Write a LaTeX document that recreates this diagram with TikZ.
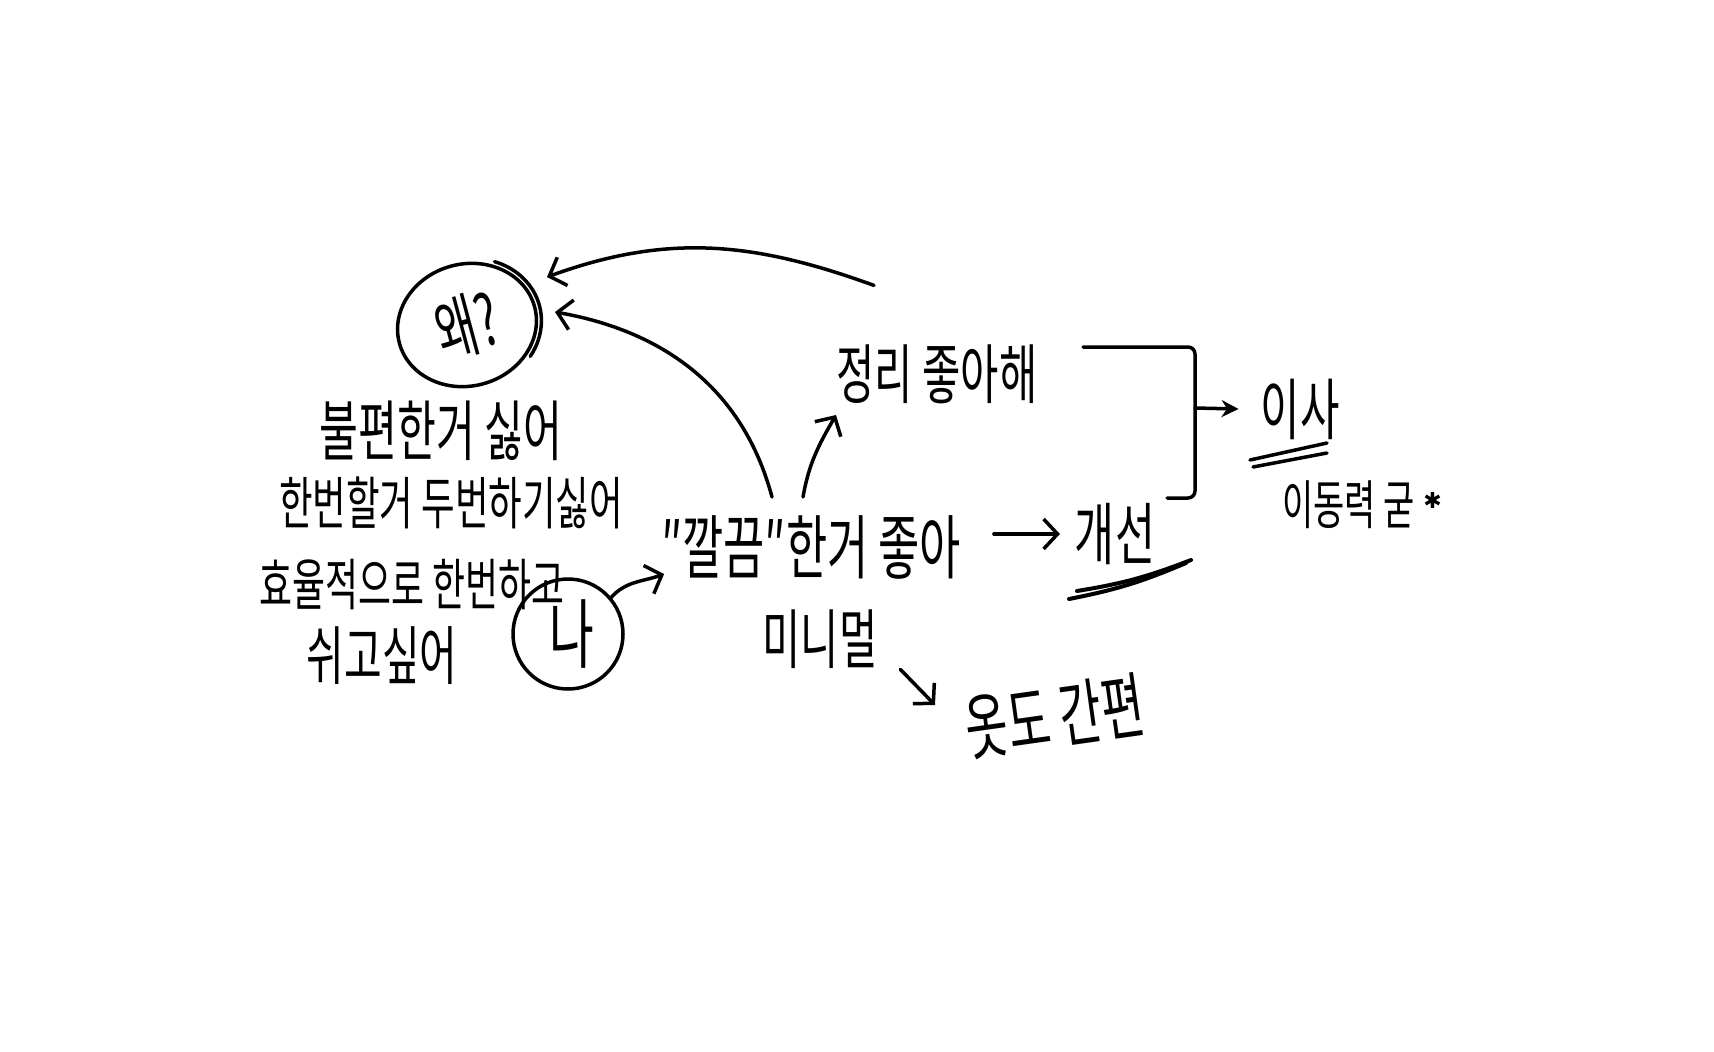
\documentclass[tikz,border=0pt]{standalone}
\usepackage{fontspec}
\setmainfont{Noto Sans CJK KR}[FakeStretch=0.64]
\newfontfamily\symfont{DejaVu Sans}
\usetikzlibrary{arrows.meta,shapes.geometric,calc}
\begin{document}
\begin{tikzpicture}[x=1pt,y=1pt,
  hw/.style={inner sep=0pt, outer sep=0pt, font=\fontsize{#1}{#1}\selectfont},
  ink/.style={line width=3.5pt, line cap=round, line join=round},
  arr/.style={ink, -{Straight Barb[length=14pt,width=30pt]}},
  arrt/.style={ink, -{Stealth[length=17pt,width=17pt]}}]
\fill[white] (0,-1052) rectangle (1714,0);
\useasboundingbox (0,-1052) rectangle (1714,0);

% nodes
\node[hw=70, draw, ellipse, ink, minimum width=140pt, minimum height=122pt, rotate=15] (wae) at (467,-325) {왜?};
\begin{scope}[shift={(wae.center)}, rotate=15]
  \draw[ink] (-45:75pt and 66pt) arc[start angle=-45, end angle=55, x radius=75pt, y radius=66pt];
\end{scope}
\node[hw=65] (jungri) at (937,-374) {정리 좋아해};
\node[hw=70] (ggal) at (811,-547) {″깔끔″한거 좋아};
\node[hw=68] (gaesun) at (1115,-534) {개선};
\node[hw=67] (isa) at (1300,-409) {이사};
\node[hw=53] (idong) at (1362,-505) {이동력 굳\,\raisebox{0.3em}{\symfont\fontsize{22}{22}\selectfont ✱}};
\node[hw=65] (minimal) at (820,-639) {미니멀};
\node[hw=72, rotate=8] (otdo) at (1055,-716) {옷도 간편};
\node[hw=66] (l1) at (441,-431) {불편한거 싫어};
\node[hw=57] (l2) at (451,-503) {한번할거 두번하기싫어};
\node[hw=56] (l3) at (412,-585) {효율적으로 한번하고};
\node[hw=64] (l4) at (382,-656) {쉬고싶어};
\node[hw=76, draw, circle, ink, minimum size=110pt] (na) at (568,-634) {\hspace{8pt}나};

% connectors
\draw[arr] ([shift={(-63,59)}]jungri.north) to[out=160,in=20] ([shift={(80,48)}]wae.center);
\draw[arr] ([shift={(-39,50)}]ggal.center) to[out=105,in=-10] ([shift={(88,13)}]wae.center);
\draw[arr] ([shift={(-8,50)}]ggal.center) to[out=80,in=-120] ([shift={(-101,-41)}]jungri.center);
\draw[arr] (na.40) to[out=50,in=200] ([shift={(3,-27)}]ggal.west);
\path ([xshift=33pt]ggal.east) coordinate (ga1);
\draw[arr] (ga1 |- gaesun.west) -- ([xshift=-15pt]gaesun.west);
\draw[arr] ([shift={(23,-1)}]minimal.south east) -- ([shift={(-120,11)}]otdo.center);

% bracket
\coordinate (btop) at ([shift={(146,27)}]jungri.center);
\coordinate (bbot) at ([shift={(52,36)}]gaesun.center);
\coordinate (bmid) at (1195,-408);
\draw[ink, rounded corners=7pt] (btop) -- (btop -| bmid) -- (bbot -| bmid) -- (bbot);
\draw[arrt] (bmid) -- ([xshift=-22pt]isa.west);

% underlines
\draw[ink, line width=4pt] (1069,-599) to[bend right=6] (1186,-563);
\draw[ink, line width=4pt] (1077,-591) to[bend right=6] (1191,-560);
\draw[ink] (1250,-460) -- (1327,-443);
\draw[ink] (1253,-467) -- (1327,-453);
\end{tikzpicture}
\end{document}
